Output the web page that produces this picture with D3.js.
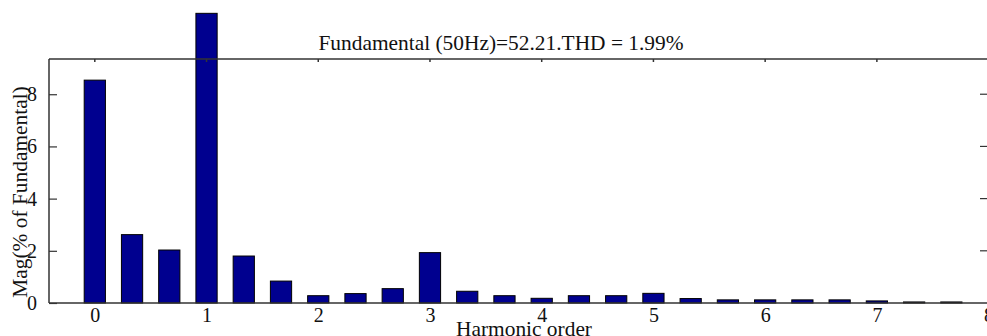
<!DOCTYPE html>
<html>
<head>
<meta charset="utf-8">
<script src="https://cdn.jsdelivr.net/npm/d3@7"></script>
<style>
  body { margin: 0; background: #fff; }
</style>
</head>
<body>
<div id="canvas"></div>
<script>
// harmonic orders (bars every 1/3)
var orders = [0, 1/3, 2/3, 1, 4/3, 5/3, 2, 7/3, 8/3, 3, 10/3, 11/3, 4, 13/3, 14/3, 5,
              16/3, 17/3, 6, 19/3, 20/3, 7, 22/3, 23/3];
// magnitude, % of fundamental
var mags = [8.54, 2.62, 2.03, 11.1, 1.80, 0.84, 0.28, 0.36, 0.55, 1.93, 0.45, 0.28, 0.18,
            0.28, 0.28, 0.37, 0.17, 0.12, 0.12, 0.12, 0.12, 0.08, 0.04, 0.04];
var x_ticks = [0, 1, 2, 3, 4, 5, 6, 7, 8];
var y_ticks = [0, 2, 4, 6, 8];
var title = 'Fundamental (50Hz)=52.21.THD = 1.99%';

var FONT = "'Liberation Serif', 'DejaVu Serif', serif";
var width = 987, height = 336;
var left = 49, top_y = 59, bottom = 303;

var x_scale = d3.scaleLinear()
	.domain([-0.41, 8])
	.range([left, 95 + 8 * 111.7]);

var y_scale = d3.scaleLinear()
	.domain([0, 9.35])
	.range([bottom, top_y]);

var bar_w = x_scale(0.19) - x_scale(0);

var canvas = d3.select('#canvas')
	.append('svg')
	.attr('width', width)
	.attr('height', height)
	.attr('font-family', FONT);

// bars
canvas.selectAll('.bar')
	.data(orders)
	.enter()
	.append('rect')
		.attr('class', 'bar')
		.attr('x', function(d) { return x_scale(d) - bar_w / 2; })
		.attr('width', bar_w)
		.attr('y', function(d, i) { return y_scale(mags[i]); })
		.attr('height', function(d, i) { return bottom - y_scale(mags[i]); })
		.attr('fill', '#00008f')
		.attr('stroke', '#000')
		.attr('stroke-width', 1);

// box lines
var axis_col = '#333';
canvas.append('line')
	.attr('x1', left).attr('x2', width + 2)
	.attr('y1', top_y).attr('y2', top_y)
	.attr('stroke', axis_col).attr('stroke-width', 1.5);
canvas.append('line')
	.attr('x1', left).attr('x2', width + 2)
	.attr('y1', bottom).attr('y2', bottom)
	.attr('stroke', axis_col).attr('stroke-width', 1.5);
canvas.append('line')
	.attr('x1', left).attr('x2', left)
	.attr('y1', top_y).attr('y2', bottom)
	.attr('stroke', axis_col).attr('stroke-width', 1.5);

// x axis (bottom labels + inward ticks on top)
var x_axis = d3.axisBottom(x_scale).tickValues(x_ticks).tickSize(0).tickPadding(5).tickFormat(d3.format('d'));
var gx = canvas.append('g')
	.attr('transform', 'translate(0,' + bottom + ')')
	.call(x_axis)
	.attr('font-family', FONT)
	.attr('font-size', 20);
gx.select('.domain').remove();
gx.selectAll('text').attr('fill', '#111');

canvas.selectAll('.xtick-top')
	.data(x_ticks)
	.enter()
	.append('line')
		.attr('x1', function(d) { return x_scale(d); })
		.attr('x2', function(d) { return x_scale(d); })
		.attr('y1', top_y).attr('y2', top_y + 3)
		.attr('stroke', axis_col).attr('stroke-width', 1.5);

// y axis
var y_axis = d3.axisLeft(y_scale).tickValues(y_ticks).tickSizeInner(-8).tickSizeOuter(0).tickPadding(12);
var gy = canvas.append('g')
	.attr('transform', 'translate(' + left + ',0)')
	.call(y_axis)
	.attr('font-family', FONT)
	.attr('font-size', 20);
gy.select('.domain').remove();
gy.selectAll('line').attr('stroke', axis_col).attr('stroke-width', 1.2);
gy.selectAll('text').attr('fill', '#111');

// right side ticks
canvas.selectAll('.ytick-right')
	.data(y_ticks.filter(function(d) { return d > 0; }))
	.enter()
	.append('line')
		.attr('x1', 980).attr('x2', 988)
		.attr('y1', function(d) { return y_scale(d); })
		.attr('y2', function(d) { return y_scale(d); })
		.attr('stroke', axis_col).attr('stroke-width', 1.2);

// title and labels
canvas.append('text')
	.attr('x', 501).attr('y', 50)
	.attr('text-anchor', 'middle')
	.attr('font-size', 21.4)
	.attr('fill', '#111')
	.text(title);

canvas.append('text')
	.attr('x', 524).attr('y', 336)
	.attr('text-anchor', 'middle')
	.attr('font-size', 21.4)
	.attr('fill', '#111')
	.text('Harmonic order');

canvas.append('text')
	.attr('transform', 'translate(27,' + 192 + ') rotate(-90)')
	.attr('text-anchor', 'middle')
	.attr('font-size', 21.4)
	.attr('fill', '#111')
	.text('Mag(% of Fundamental)');
</script>
</body>
</html>
